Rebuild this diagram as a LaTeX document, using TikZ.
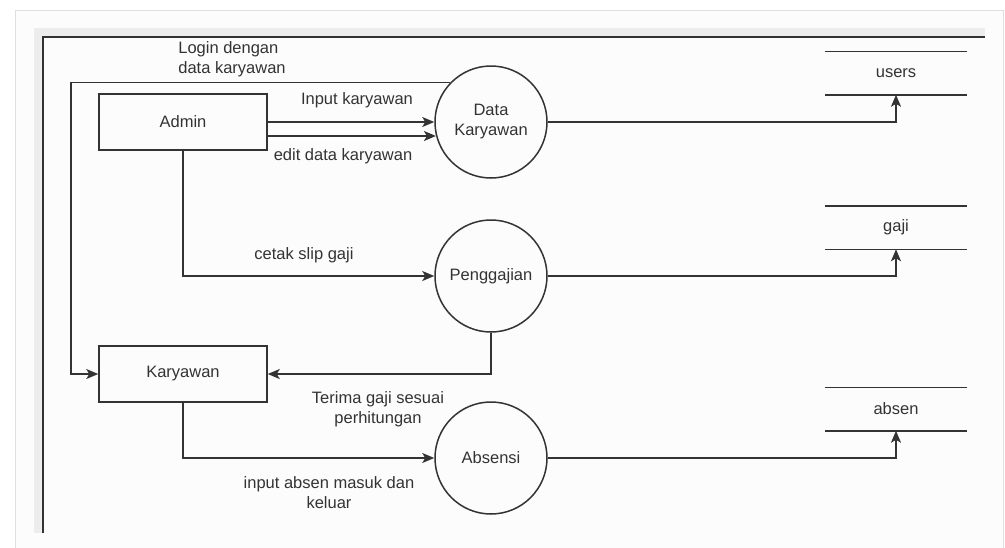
\documentclass[tikz,border=0pt]{standalone}
\usepackage{fontspec}
\setmainfont{Liberation Sans}
\usetikzlibrary{arrows.meta}
\definecolor{ink}{HTML}{333333}

\begin{document}
\begin{tikzpicture}[x = 1pt, y = -1pt, line width = 1.5pt,
    every node/.style = {text = ink, font = \fontsize{16.5}{20}\selectfont},
    line/.style = {draw = ink},
    arr/.style = {draw = ink, -{Stealth[length = 12pt, width = 10pt, inset = 3pt]}},
    entity/.style = {draw = ink, minimum width = 168pt, minimum height = 56pt},
    proc/.style = {draw = ink, circle, minimum size = 112pt, inner sep = 0pt, align = center},
    store/.style = {minimum width = 140pt, minimum height = 42pt, inner sep = 0pt},
    lbl/.style = {align = center, inner sep = 0pt}]

\useasboundingbox (0,0) rectangle (1005,547);
% screenshot frame
\fill[white] (0,0) rectangle (1005,547);
\draw[gray!25, line width = 1pt, fill = gray!2] (15,10) rectangle (1003,548);
\fill[gray!14] (34,28) rectangle (985,37);
\fill[gray!14] (34,28) rectangle (43,533);
\draw[line] (43,533) -- (43,37) -- (985,37);

\draw
    (183,122) node[entity](admin){Admin}
    (183,374) node[entity](kar){Karyawan}
    (491,122) node[proc](dk){Data\\Karyawan}
    (491,276) node[proc](pg){Penggajian}
    (491,458) node[proc](ab){Absensi}
    (896,73) node[store](users){users}
    (896,227.5) node[store](gaji){gaji}
    (896,409) node[store](absen){absen};

    \foreach \s in {users,gaji,absen}
        \draw[line] (\s.north west) -- (\s.north east) (\s.south west) -- (\s.south east);

    \coordinate (lg) at (71,0);
    \coordinate (e1) at ([yshift = -14pt]admin.east);

    \draw[arr] (admin.east) -- (dk.west);
    \draw[arr] (e1) -- (e1 -| dk.194.5);
    \draw[arr] (dk.136) -- (dk.136 -| lg) |- (kar.west);
    \draw[arr] (admin.south) |- (pg.west);
    \draw[arr] (pg.south) |- (kar.east);
    \draw[arr] (kar.south) |- (ab.west);
    \draw[arr] (dk.east) -| (users.south);
    \draw[arr] (pg.east) -| (gaji.south);
    \draw[arr] (ab.east) -| (absen.south);

    \node[lbl, align = left] (l1) at (232,59) {Login dengan\\data karyawan};
    \node[lbl] (l2) at (357,100) {Input karyawan};
    \node[lbl] (l3) at (343,156) {edit data karyawan};
    \node[lbl] (l4) at (304,255) {cetak slip gaji};
    \node[lbl] (l5) at (378,409) {Terima gaji sesuai\\perhitungan};
    \node[lbl] (l6) at (329,493) {input absen masuk dan\\keluar};

\end{tikzpicture}
\end{document}
